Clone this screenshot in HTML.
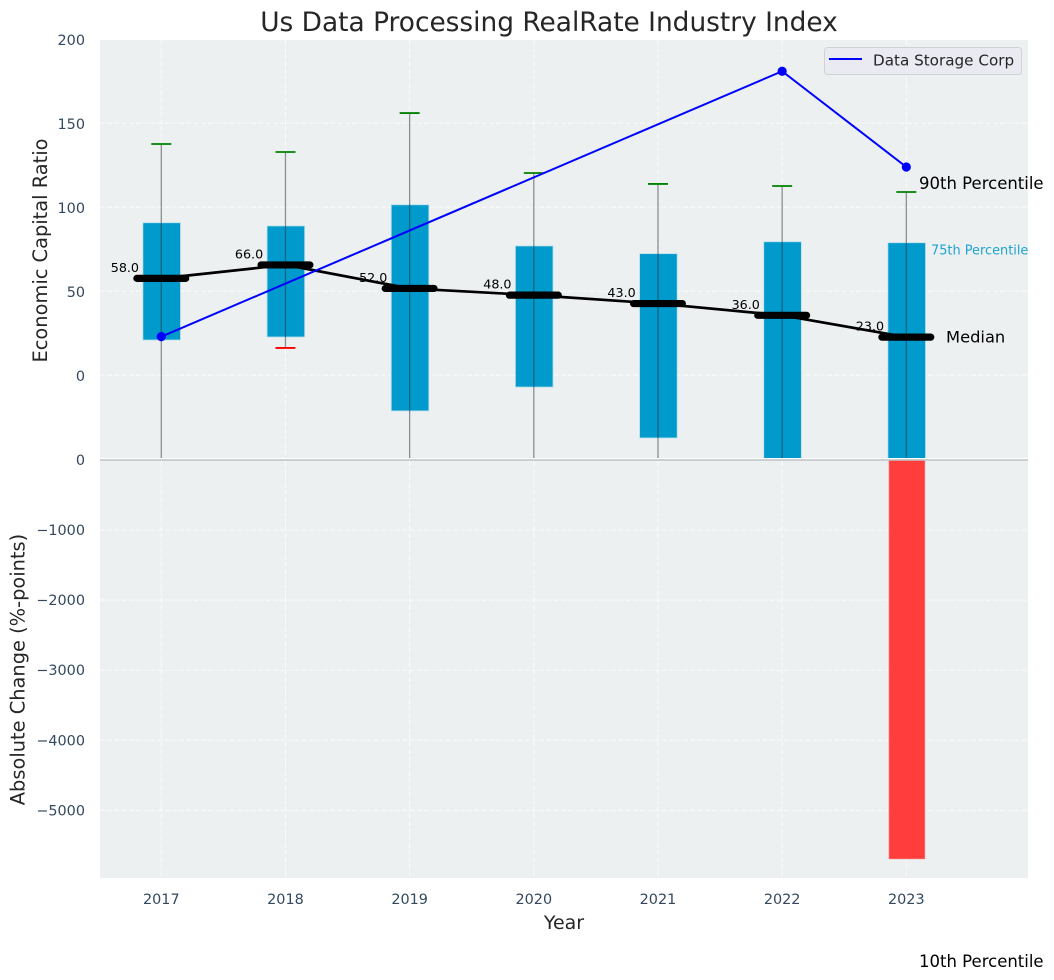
<!DOCTYPE html>
<html lang="en">
<head>
<meta charset="utf-8">
<title>Us Data Processing RealRate Industry Index</title>
<style>
html,body{margin:0;padding:0;background:#fff;width:1054px;height:980px;overflow:hidden}
svg{display:block}
text{font-family:"DejaVu Sans","Liberation Sans",sans-serif}
</style>
</head>
<body>
<svg id="chart" xmlns="http://www.w3.org/2000/svg" width="1054" height="980" viewBox="0 0 1054 980">
  <defs>
    <clipPath id="top-clip"><rect x="100" y="40" width="928" height="418"></rect></clipPath>
  </defs>
  <rect x="100" y="40" width="928" height="418" fill="#ecf0f1"></rect>
  <rect x="100" y="459" width="928" height="419" fill="#ecf0f1"></rect>
  <g id="grid"></g>
  <g id="top-marks" clip-path="url(#top-clip)"></g>
  <g id="labels"></g>
  <g id="bottom-marks"></g>
  <g id="median-marks"></g>
  <g id="line-marks"></g>
  <g id="ticks"></g>
  <g id="annotations"></g>

  <text x="549" y="31" font-size="26.4px" fill="#262626" text-anchor="middle">Us Data Processing RealRate Industry Index</text>
  <text x="564" y="929" font-size="19px" fill="#262626" text-anchor="middle">Year</text>
  <text transform="translate(47,250.5) rotate(-90)" font-size="19.4px" fill="#262626" text-anchor="middle">Economic Capital Ratio</text>
  <text transform="translate(24.5,669.5) rotate(-90)" font-size="19.4px" fill="#262626" text-anchor="middle">Absolute Change (%-points)</text>

  <g>
    <rect x="824.5" y="47.5" width="197" height="27" rx="3" fill="#eaeaf2" stroke="#d0d2d6" stroke-width="1"></rect>
    <line x1="829" x2="862" y1="59" y2="59" stroke="#0000ff" stroke-width="2"></line>
    <text x="873" y="65.5" font-size="15.2px" fill="#262626">Data Storage Corp</text>
  </g>
</svg>
<script>
const years = [2017, 2018, 2019, 2020, 2021, 2022, 2023];
const p90 = [137.7, 132.9, 156.1, 120.4, 113.9, 112.7, 109.1];
const p75 = [90.8, 88.9, 101.5, 77, 72.4, 79.5, 78.9];
const median = [58, 66, 52, 48, 43, 36, 23];
const p25 = [21, 22.8, -21.2, -7, -37.3, -60, -60];
const p10 = [-60, 16.3, -60, -60, -60, -60, -352];
const lineYears = [2017, 2022, 2023];
const lineValues = [23, 181, 124];
const changeYears = [2023];
const changeValues = [-5690];
const topTicks = [200, 150, 100, 50, 0];
const bottomTicks = [0, -1000, -2000, -3000, -4000, -5000];

const NS = 'http://www.w3.org/2000/svg';
const xScale = function (v) { return 161.3 + (v - 2017) * 124.17; };
const yTop = function (v) { return 375.3 - v * 1.68; };
const yBottom = function (v) { return 459.9 - v * 0.0701; };
const yMedian = function (v) { return yTop(v) + 0.5; };

function mk(parentId, tag, attrs, content) {
  const node = document.createElementNS(NS, tag);
  Object.keys(attrs).forEach(function (k) { node.setAttribute(k, attrs[k]); });
  if (content !== undefined) node.textContent = content;
  document.getElementById(parentId).appendChild(node);
  return node;
}
const gridStyle = { stroke: '#ffffff', 'stroke-width': 1, 'stroke-dasharray': '5 2.2', opacity: 0.75 };
const tickColor = '#34495e';
const tickSize = '14.4px';

years.forEach(function (yr) {
  const x = xScale(yr);
  const a = mk('grid', 'line', Object.assign({ x1: x, x2: x, y1: 40, y2: 458 }, gridStyle));
  
  
  const b = mk('grid', 'line', Object.assign({ x1: x, x2: x, y1: 461, y2: 878 }, gridStyle));
  
  
  const t = mk('ticks', 'text', { x: x, y: 904, 'font-size': tickSize, fill: tickColor, 'text-anchor': 'middle' }, String(yr));
  
  
});

topTicks.forEach(function (v) {
  const y = yTop(v);
  if (v < 200) {
    const g = mk('grid', 'line', Object.assign({ x1: 100, x2: 1028, y1: y, y2: y }, gridStyle));
    
    
  }
  const t = mk('ticks', 'text', { x: 85, y: y + 5.5, 'font-size': tickSize, fill: tickColor, 'text-anchor': 'end' }, String(v));
  
  
});

bottomTicks.forEach(function (v) {
  const y = yBottom(v);
  if (v < 0) {
    const g = mk('grid', 'line', Object.assign({ x1: 100, x2: 1028, y1: y, y2: y }, gridStyle));
    
    
  }
  const label = v < 0 ? '\u2212' + Math.abs(v) : String(v);
  const t = mk('ticks', 'text', { x: 85, y: y + 5, 'font-size': tickSize, fill: tickColor, 'text-anchor': 'end' }, label);
  
  
});

years.forEach(function (yr, i) {
  const x = xScale(yr);
  const top = yTop(p75[i]);
  const box = mk('top-marks', 'rect', { x: x - 18.4, y: top, width: 37.6, height: yTop(p25[i]) - top, fill: '#009acd', stroke: '#b9e0ec', 'stroke-width': 0.8 });
  
  
  const whisker = mk('top-marks', 'line', { x1: x, x2: x, y1: yTop(p90[i]), y2: yTop(p10[i]), stroke: '#1f2b33', 'stroke-width': 1.3, opacity: 0.5 });
  
  
  const capHigh = mk('top-marks', 'line', { x1: x - 10, x2: x + 10, y1: yTop(p90[i]), y2: yTop(p90[i]), stroke: '#008000', 'stroke-width': 1.8 });
  
  
  const capLow = mk('top-marks', 'line', { x1: x - 10, x2: x + 10, y1: yTop(p10[i]), y2: yTop(p10[i]), stroke: '#ff0000', 'stroke-width': 1.8 });
  
  
  const lab = mk('labels', 'text', { x: x - 22.3, y: yTop(median[i]) - 6, 'font-size': '12.7px', fill: '#000000', 'text-anchor': 'end' }, median[i].toFixed(1));
  
  
});

const zero = mk('bottom-marks', 'rect', { x: 100, y: 458, width: 928, height: 1.2, fill: '#ffffff' });


changeYears.forEach(function (yr, i) {
  const x = xScale(yr) + 0.6;
  const y0 = yBottom(0);
  const bar = mk('bottom-marks', 'rect', { x: x - 17.8, y: y0, width: 35.6, height: yBottom(changeValues[i]) - y0, fill: '#ff3d3d', stroke: '#ff6a6a', 'stroke-width': 0.8 });
  
  
});
const zeroLine = mk('bottom-marks', 'line', { x1: 100, x2: 1028, y1: 460, y2: 460, stroke: '#bfc3c5', 'stroke-width': 1.4 });



const medianPoints = years.map(function (yr, i) { return xScale(yr) + ',' + yMedian(median[i]); }).join(' ');
const trend = mk('median-marks', 'polyline', { points: medianPoints, fill: 'none', stroke: '#000000', 'stroke-width': 2.7 });


years.forEach(function (yr, i) {
  const x = xScale(yr);
  const bar = mk('median-marks', 'line', { x1: x - 24.4, x2: x + 24.4, y1: yMedian(median[i]), y2: yMedian(median[i]), stroke: '#000000', 'stroke-width': 7.2, 'stroke-linecap': 'round' });
  
  
});

const linePoints = lineYears.map(function (yr, i) { return xScale(yr) + ',' + yTop(lineValues[i]); }).join(' ');
const blue = mk('line-marks', 'polyline', { points: linePoints, fill: 'none', stroke: '#0000ff', 'stroke-width': 2 });


lineYears.forEach(function (yr, i) {
  const dot = mk('line-marks', 'circle', { cx: xScale(yr), cy: yTop(lineValues[i]), r: 4.6, fill: '#0000ff' });
  
  
});

const last = years.length - 1;
const xLast = xScale(years[last]);
const a90 = mk('annotations', 'text', { x: xLast + 12.7, y: yTop(p90[last]) - 3, 'font-size': '16.5px', fill: '#000000' }, '90th Percentile');


const a75 = mk('annotations', 'text', { x: xLast + 24.7, y: yTop(p75[last]) + 12, 'font-size': '12.9px', fill: '#1fa3d0' }, '75th Percentile');


const aMed = mk('annotations', 'text', { x: xLast + 39.7, y: yTop(median[last]) + 6, 'font-size': '16.3px', fill: '#000000' }, 'Median');


const a10 = mk('annotations', 'text', { x: xLast + 12.7, y: yTop(p10[last]) + 0.3, 'font-size': '16.5px', fill: '#000000' }, '10th Percentile');


</script>
</body>
</html>
